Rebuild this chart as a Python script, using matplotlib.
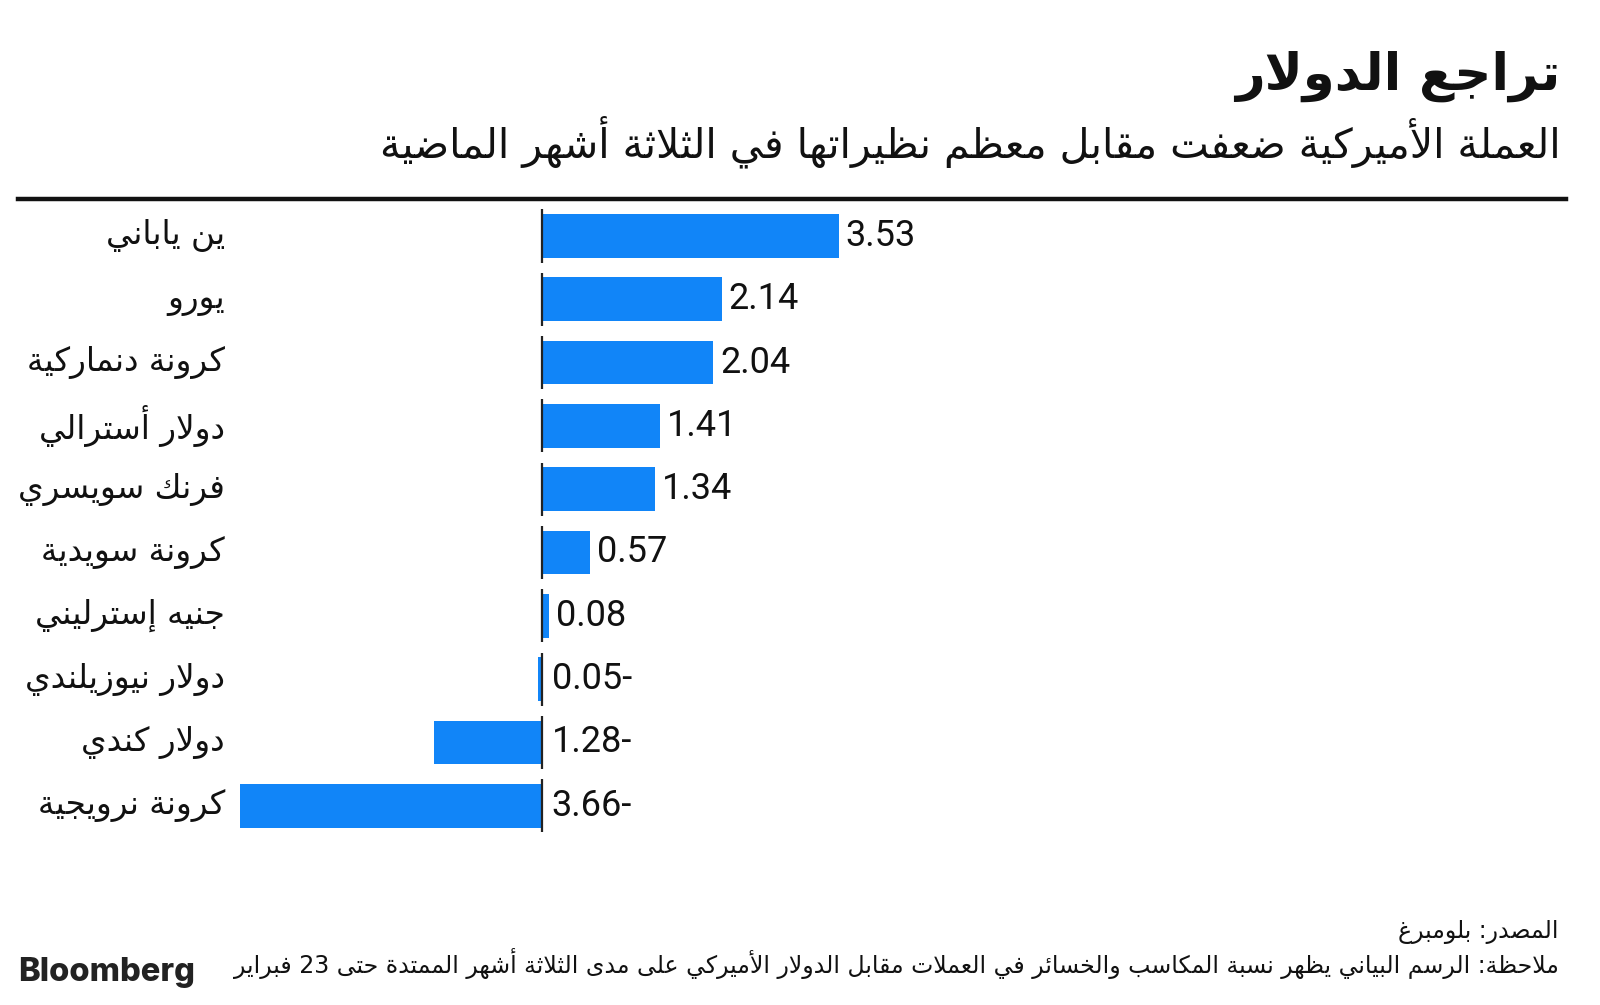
import re
import matplotlib
matplotlib.use("Agg")
import matplotlib.pyplot as plt
from matplotlib.lines import Line2D

# ---------------- data ----------------
title = "تراجع الدولار"
subtitle = "العملة الأميركية ضعفت مقابل معظم نظيراتها في الثلاثة أشهر الماضية"
categories = ["ين ياباني", "يورو", "كرونة دنماركية", "دولار أسترالي", "فرنك سويسري",
              "كرونة سويدية", "جنيه إسترليني", "دولار نيوزيلندي", "دولار كندي", "كرونة نرويجية"]
values = [3.53, 2.14, 2.04, 1.41, 1.34, 0.57, 0.08, -0.05, -1.28, -3.66]
source_text = "المصدر: بلومبرغ"
note_text = ("ملاحظة: الرسم البياني يظهر نسبة المكاسب والخسائر في العملات مقابل الدولار "
             "الأميركي على مدى الثلاثة أشهر الممتدة حتى 23 فبراير")
logo_text = "Bloomberg"

# ---------------- minimal Arabic shaping + visual ordering ----------------
_FORMS = {
    '\u0621': (0xFE80, 1), '\u0622': (0xFE81, 2), '\u0623': (0xFE83, 2), '\u0624': (0xFE85, 2),
    '\u0625': (0xFE87, 2), '\u0626': (0xFE89, 4), '\u0627': (0xFE8D, 2), '\u0628': (0xFE8F, 4),
    '\u0629': (0xFE93, 2), '\u062A': (0xFE95, 4), '\u062B': (0xFE99, 4), '\u062C': (0xFE9D, 4),
    '\u062D': (0xFEA1, 4), '\u062E': (0xFEA5, 4), '\u062F': (0xFEA9, 2), '\u0630': (0xFEAB, 2),
    '\u0631': (0xFEAD, 2), '\u0632': (0xFEAF, 2), '\u0633': (0xFEB1, 4), '\u0634': (0xFEB5, 4),
    '\u0635': (0xFEB9, 4), '\u0636': (0xFEBD, 4), '\u0637': (0xFEC1, 4), '\u0638': (0xFEC5, 4),
    '\u0639': (0xFEC9, 4), '\u063A': (0xFECD, 4), '\u0641': (0xFED1, 4), '\u0642': (0xFED5, 4),
    '\u0643': (0xFED9, 4), '\u0644': (0xFEDD, 4), '\u0645': (0xFEE1, 4), '\u0646': (0xFEE5, 4),
    '\u0647': (0xFEE9, 4), '\u0648': (0xFEED, 2), '\u0649': (0xFEEF, 2), '\u064A': (0xFEF1, 4),
}
_LAM_ALEF = {'\u0622': 0xFEF5, '\u0623': 0xFEF7, '\u0625': 0xFEF9, '\u0627': 0xFEFB}


def _shape(text):
    units = []
    i = 0
    while i < len(text):
        c = text[i]
        if c == '\u0644' and i + 1 < len(text) and text[i + 1] in _LAM_ALEF:
            units.append(('LA', _LAM_ALEF[text[i + 1]]))
            i += 2
        else:
            units.append(('C', c))
            i += 1

    def jt(u):
        if u is None:
            return None
        if u[0] == 'LA':
            return 'R'
        if u[1] in _FORMS:
            return {1: 'U', 2: 'R', 4: 'D'}[_FORMS[u[1]][1]]
        return None

    out = []
    for k, u in enumerate(units):
        t = jt(u)
        if t is None or t == 'U':
            out.append(u[1] if u[0] == 'C' else chr(u[1]))
            continue
        prev = jt(units[k - 1]) if k > 0 else None
        nxt = jt(units[k + 1]) if k + 1 < len(units) else None
        jp = prev == 'D'
        jn = t == 'D' and nxt in ('D', 'R')
        base = u[1] if u[0] == 'LA' else _FORMS[u[1]][0]
        if jp and jn:
            code = base + 3
        elif jp:
            code = base + 1
        elif jn:
            code = base + 2
        else:
            code = base
        out.append(chr(code))
    return ''.join(out)


def ar(text):
    s = _shape(text)
    tokens = re.findall(r'[0-9A-Za-z.]+|.', s)
    tokens.reverse()
    return ''.join(tokens)


# ---------------- figure ----------------
W, H = 1600, 1005
fig = plt.figure(figsize=(W / 100, H / 100), dpi=100)
fig.patch.set_facecolor('white')

AR_FONT = ['DejaVu Sans']
NUM_FONT = ['Roboto', 'DejaVu Sans']
BAR_COLOR = '#1185F8'


def fx(px):
    return px / W


def fy(py):
    return 1 - py / H


# Title / subtitle
fig.text(fx(1560), fy(76), ar(title), ha='right', va='center', fontsize=37,
         fontweight='bold', family=AR_FONT, color='#111111')
fig.text(fx(1561), fy(142), ar(subtitle), ha='right', va='center', fontsize=29.5,
         family=AR_FONT, color='#111111')
fig.add_artist(Line2D([fx(18), fx(1566)], [fy(199), fy(199)], lw=3.2, color='#111111'))

# Axes placement: zero at x=542px, 84 px per unit; rows 63.3 px apart starting at 236px
zero_px, ppu = 542, 84.0
ax_left, ax_right = 240, 1560
row0, step = 236, 63.3
n = len(categories)
ax_top = row0 - step / 2
ax_bot = row0 + step * (n - 1) + step / 2
ax = fig.add_axes([fx(ax_left), fy(ax_bot), (ax_right - ax_left) / W, (ax_bot - ax_top) / H])
ax.set_xlim((ax_left - zero_px) / ppu, (ax_right - zero_px) / ppu)
ax.set_ylim(n - 0.5, -0.5)
ax.axis('off')

ypos = list(range(n))
ax.barh(ypos, values, height=0.69, color=BAR_COLOR, zorder=2)
for i, v in enumerate(values):
    ax.plot([0, 0], [i - 0.42, i + 0.42], color='#222222', lw=1.6, zorder=3,
            solid_capstyle='butt')
    label = f"{v:.2f}" if v >= 0 else f"{abs(v):.2f}-"
    ax.annotate(label, xy=(max(v, 0), i), xytext=(5 if v >= 0 else 7, 0),
                textcoords='offset points', ha='left', va='center', fontsize=26,
                family=NUM_FONT, color='#111111')
    fig.text(fx(225), fy(row0 + step * i), ar(categories[i]), ha='right', va='center',
             fontsize=23.5, family=AR_FONT, color='#111111')

# Footer
fig.text(fx(1559), fy(932), ar(source_text), ha='right', va='center', fontsize=17,
         family=AR_FONT, color='#111111')
fig.text(fx(1559), fy(963), ar(note_text), ha='right', va='center', fontsize=17,
         family=AR_FONT, color='#111111')
fig.text(fx(18), fy(972), logo_text, ha='left', va='center', fontsize=23.5,
         fontweight='heavy', family=['Inter', 'DejaVu Sans'], color='#222222')

fig.savefig('out.png', dpi=100, facecolor='white')
